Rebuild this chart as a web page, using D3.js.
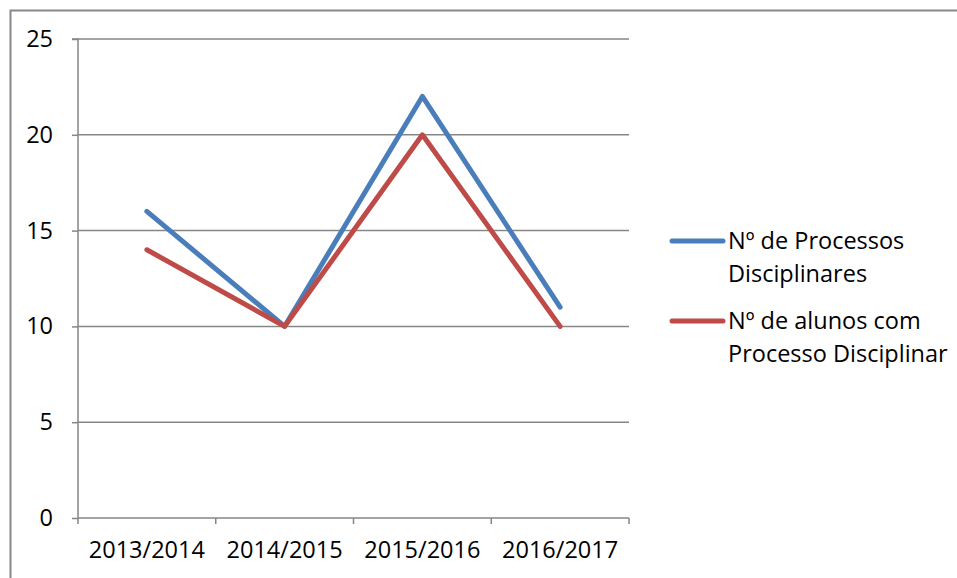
<!DOCTYPE html>
<html><head><meta charset="utf-8">
<script src="https://cdn.jsdelivr.net/npm/d3@7"></script>
<style>body{margin:0;background:#fff}svg{display:block}text{font-family:"Open Sans",sans-serif;fill:#000}</style>
</head><body><svg id="c" width="957" height="578"></svg>
<script>
const categories = ["2013/2014","2014/2015","2015/2016","2016/2017"];
const seriesNames = [["Nº de Processos","Disciplinares"],["Nº de alunos com","Processo Disciplinar"]];
const processos = [16,10,22,11];
const alunos = [14,10,20,10];
const yTicks = [0,5,10,15,20,25];
const colors = ["#4a7ebb","#be4b48"];
const FS = 23.5;

const svg = d3.select("#c");
svg.append("rect").attr("x",10.5).attr("y",10.5).attr("width",1000).attr("height",600)
  .attr("fill","none").attr("stroke","#888").attr("stroke-width",2);

const L=78,R=629,T=39,B=518;
const x = d3.scaleBand().domain(categories).range([L,R]);
const y = d3.scaleLinear().domain([0,25]).range([B,T]);

svg.append("g").selectAll("line").data(yTicks.filter(d=>d>0)).join("line")
  .attr("x1",L).attr("x2",R).attr("y1",d=>y(d)).attr("y2",d=>y(d))
  .attr("stroke","#868686").attr("stroke-width",1.5);

const ya = svg.append("g").attr("transform",`translate(${L},0)`)
  .call(d3.axisLeft(y).tickValues(yTicks).tickSize(6).tickPadding(19));
ya.select(".domain").attr("stroke","#868686").attr("stroke-width",1.5).attr("d",`M-6,${T}H0V${B}`);
ya.selectAll(".tick line").attr("stroke","#868686").attr("stroke-width",1.5);
ya.selectAll(".tick text").attr("font-size",FS).attr("font-family","'Open Sans',sans-serif").attr("fill","#000");

const xa = svg.append("g").attr("transform",`translate(0,${B})`)
  .call(d3.axisBottom(x).tickSize(0).tickPadding(23));
xa.select(".domain").remove();
xa.selectAll(".tick text").attr("font-size",FS).attr("font-family","'Open Sans',sans-serif").attr("fill","#000");
const bounds = categories.map(c=>x(c)).concat([R]);
svg.append("g").selectAll("line").data(bounds).join("line")
  .attr("x1",d=>d).attr("x2",d=>d).attr("y1",B).attr("y2",B+6)
  .attr("stroke","#868686").attr("stroke-width",1.5);
svg.append("line").attr("x1",L).attr("x2",R).attr("y1",B).attr("y2",B)
  .attr("stroke","#868686").attr("stroke-width",1.5);

const line = d3.line().x((d,i)=>x(categories[i])+x.bandwidth()/2).y(d=>y(d));
[processos,alunos].forEach((s,k)=>{
  svg.append("path").attr("d",line(s)).attr("fill","none").attr("stroke",colors[k])
    .attr("stroke-width",5).attr("stroke-linecap","round").attr("stroke-linejoin","round");
});

const legY=[241,321];
seriesNames.forEach((n,k)=>{
  const g = svg.append("g");
  g.append("line").attr("x1",672).attr("x2",723).attr("y1",legY[k]).attr("y2",legY[k])
    .attr("stroke",colors[k]).attr("stroke-width",5).attr("stroke-linecap","round");
  g.append("text").attr("x",728).attr("y",legY[k]+8).attr("font-size",FS).text(n[0]);
  g.append("text").attr("x",728).attr("y",legY[k]+41).attr("font-size",FS).text(n[1]);
});
</script></body></html>
